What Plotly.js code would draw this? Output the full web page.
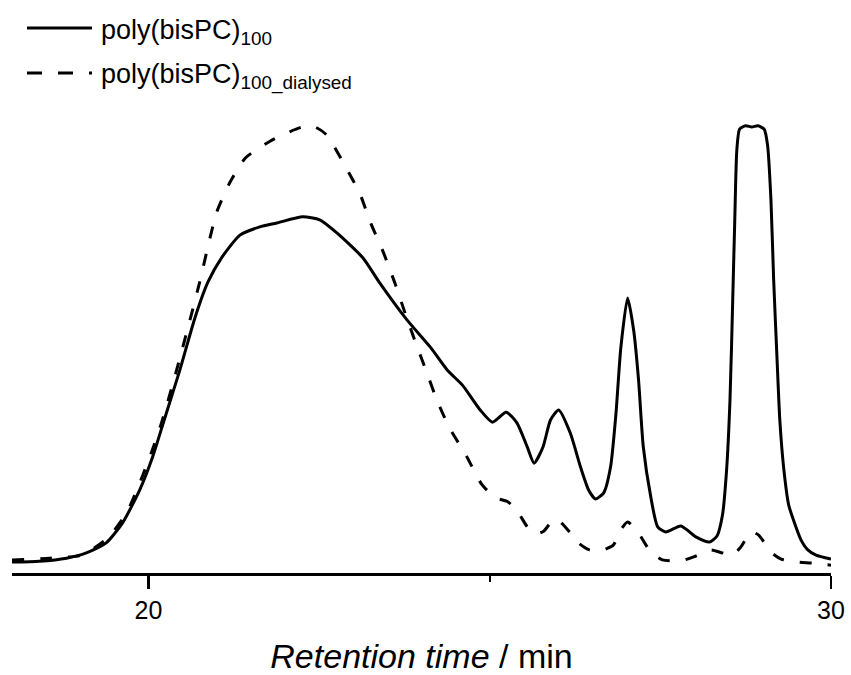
<!DOCTYPE html>
<html>
<head>
<meta charset="utf-8">
<script src="https://cdn.plot.ly/plotly-3.0.1.min.js"></script>
<style>html,body{margin:0;padding:0;background:#fff;}#chart{width:851px;height:675px;}</style>
</head>
<body>
<div id="chart"></div>
<script>
// Retention time (min) and detector signal (normalised, %)
const seriesNames = ["poly(bisPC)<sub>100</sub>", "poly(bisPC)<sub>100_dialysed</sub>"];

const timeRaw = [18.0, 18.4, 18.8, 19.09, 19.38, 19.62, 19.87, 20.06, 20.23, 20.46, 20.68, 20.87, 21.07, 21.34, 21.63, 21.88, 22.26, 22.51, 22.76, 23.14, 23.39, 23.79, 24.13, 24.38, 24.6, 24.86, 25.04, 25.24, 25.4, 25.55, 25.65, 25.78, 25.89, 26.01, 26.18, 26.33, 26.45, 26.55, 26.67, 26.77, 26.85, 26.92, 27.02, 27.11, 27.18, 27.25, 27.36, 27.46, 27.58, 27.8, 28.02, 28.22, 28.33, 28.41, 28.47, 28.52, 28.56, 28.59, 28.62, 28.66, 28.75, 28.84, 28.93, 29.02, 29.07, 29.12, 29.16, 29.21, 29.25, 29.31, 29.38, 29.46, 29.56, 29.66, 29.78, 30.0];
const signalRaw = [0.2, 0.4, 1.1, 2.3, 4.6, 9.2, 16.7, 24.3, 32.8, 44.3, 56.2, 64.4, 70.0, 75.2, 77.1, 78.0, 79.4, 78.7, 75.7, 70.0, 64.2, 55.7, 49.5, 44.2, 40.8, 35.1, 32.3, 34.6, 32.1, 26.6, 22.9, 26.6, 32.8, 35.1, 29.8, 22.0, 16.7, 14.7, 16.1, 22.0, 34.4, 49.3, 60.8, 53.2, 42.0, 26.6, 15.1, 8.3, 7.1, 8.5, 6.0, 4.8, 6.2, 11.0, 21.3, 37.4, 60.3, 78.7, 94.7, 99.5, 100.3, 100.0, 100.3, 99.5, 95.9, 83.3, 64.9, 46.6, 32.8, 21.3, 13.3, 9.4, 5.3, 3.0, 1.8, 0.9];

const timeDialysed = [18.0, 18.55, 19.02, 19.4, 19.68, 19.87, 20.04, 20.19, 20.38, 20.6, 20.75, 20.87, 21.0, 21.19, 21.42, 21.81, 22.25, 22.44, 22.61, 22.88, 23.1, 23.25, 23.44, 23.61, 23.76, 23.91, 24.07, 24.23, 24.42, 24.65, 24.88, 25.08, 25.27, 25.42, 25.55, 25.68, 25.79, 25.89, 25.98, 26.08, 26.18, 26.3, 26.46, 26.62, 26.81, 26.92, 27.02, 27.17, 27.36, 27.53, 27.8, 28.02, 28.24, 28.41, 28.56, 28.68, 28.83, 28.94, 29.12, 29.27, 29.53, 29.71, 30.0];
const signalDialysed = [0.7, 1.1, 1.8, 5.7, 11.5, 18.3, 25.2, 32.1, 42.4, 55.3, 64.4, 72.5, 80.5, 87.2, 92.9, 97.0, 100.0, 100.0, 98.2, 91.1, 84.6, 78.2, 71.3, 64.2, 57.3, 50.7, 44.0, 37.2, 30.7, 24.8, 18.1, 15.0, 14.0, 11.5, 8.3, 6.7, 7.3, 9.2, 10.1, 8.7, 6.9, 4.6, 3.0, 2.8, 4.1, 7.6, 9.4, 7.1, 2.5, 0.7, 0.5, 1.6, 3.0, 2.3, 1.8, 3.7, 7.1, 6.4, 2.5, 0.9, 0.2, 0.0, -0.5];

const xTickVals = [20, 30];
const xMinorTickVals = [25];

const FONT = "Liberation Sans, Arial, Helvetica, sans-serif";
const W = 851, H = 675;
const M = {l: 12, r: 20, t: 100, b: 102};
const pw = W - M.l - M.r, ph = H - M.t - M.b;
const px2x = p => (p - M.l) / pw;
const py2y = p => (H - M.b - p) / ph;

const traces = [
  {x: timeRaw, y: signalRaw, name: seriesNames[0], mode: "lines",
   line: {color: "#000", width: 3, shape: "spline", smoothing: 0.6}},
  {x: timeDialysed, y: signalDialysed, name: seriesNames[1], mode: "lines",
   line: {color: "#000", width: 3, dash: "12px,16px", shape: "spline", smoothing: 0.6}}
];

const layout = {
  width: W, height: H,
  margin: M,
  paper_bgcolor: "#fff", plot_bgcolor: "#fff",
  showlegend: false,
  font: {family: FONT, color: "#000"},
  xaxis: {
    range: [18, 30], showgrid: false, zeroline: false,
    showline: true, linecolor: "#000", linewidth: 2.5,
    ticks: "outside", ticklen: 13, tickwidth: 2.5, tickcolor: "#000",
    tickmode: "array", tickvals: xTickVals,
    tickfont: {family: FONT, size: 25, color: "#000"},
    minor: {tickmode: "array", tickvals: xMinorTickVals, ticks: "outside", ticklen: 6, tickwidth: 2.5, tickcolor: "#000", showgrid: false},
    title: {text: "<i>Retention time</i> / min", font: {family: FONT, size: 34, color: "#000"}, standoff: 24}
  },
  yaxis: {visible: false, range: [-2.3, 106.2], showgrid: false, zeroline: false},
  shapes: [
    {type: "line", xref: "paper", yref: "paper", x0: px2x(27), x1: px2x(92), y0: py2y(28), y1: py2y(28),
     line: {color: "#000", width: 3}},
    {type: "line", xref: "paper", yref: "paper", x0: px2x(27), x1: px2x(92), y0: py2y(73), y1: py2y(73),
     line: {color: "#000", width: 3, dash: "15px,16px"}}
  ],
  annotations: [
    {xref: "paper", yref: "paper", x: px2x(99), y: py2y(32), xanchor: "left", yanchor: "middle",
     text: seriesNames[0], showarrow: false, font: {family: FONT, size: 27, color: "#000"}},
    {xref: "paper", yref: "paper", x: px2x(99), y: py2y(77), xanchor: "left", yanchor: "middle",
     text: seriesNames[1], showarrow: false, font: {family: FONT, size: 27, color: "#000"}}
  ]
};

Plotly.newPlot("chart", traces, layout, {displayModeBar: false, staticPlot: true});
</script>
</body>
</html>
